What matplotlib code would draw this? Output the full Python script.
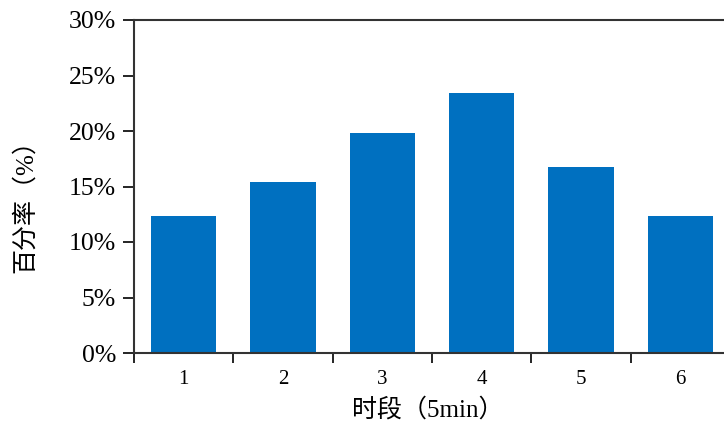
import matplotlib.pyplot as plt
from matplotlib.ticker import FuncFormatter

# 数据
periods = ['1', '2', '3', '4', '5', '6']
percent = [12.3, 15.4, 19.8, 23.4, 16.8, 12.3]

plt.rcParams['font.family'] = ['Liberation Serif', 'Noto Sans CJK SC']

fig = plt.figure(figsize=(7.24, 4.29), dpi=100)
# 右边界超出画布，和原图一样被裁掉
ax = fig.add_axes([134 / 724, 1 - 353 / 429, 596 / 724, 333 / 429])

x = range(len(periods))
ax.bar(x, percent, width=0.66, color='#0070C0')

ax.set_xlim(-0.5, len(periods) - 0.5)
ax.set_ylim(0, 30)
ax.set_yticks(range(0, 31, 5))
ax.yaxis.set_major_formatter(FuncFormatter(lambda v, p: f'{v:.0f}%'))
ax.tick_params(axis='y', labelsize=18.5, length=8, width=1.2, direction='out', pad=5)

# x 刻度线在类别之间，标签在中间
ax.set_xticks([i - 0.5 for i in range(len(periods) + 1)])
ax.set_xticklabels([])
ax.set_xticks(list(x), minor=True)
ax.set_xticklabels(periods, minor=True, fontsize=15)
ax.tick_params(axis='x', which='major', length=7, width=1.2, direction='out')
ax.tick_params(axis='x', which='minor', length=0, pad=12)

for s in ['left', 'top', 'bottom']:
    ax.spines[s].set_linewidth(1.5)
    ax.spines[s].set_color('#333333')
ax.spines['right'].set_visible(False)

ax.set_xlabel('时段（5min）', fontsize=18)
ax.xaxis.set_label_coords((428 - 134) / 596, -(410 - 353) / 333)
ax.set_ylabel('百分率（%）', fontsize=18)
ax.yaxis.set_label_coords(-(134 - 25) / 596, (353 - 200) / 333)
ax.yaxis.label.set_va('center')
ax.xaxis.label.set_va('center')

fig.savefig('out.png', dpi=100)
